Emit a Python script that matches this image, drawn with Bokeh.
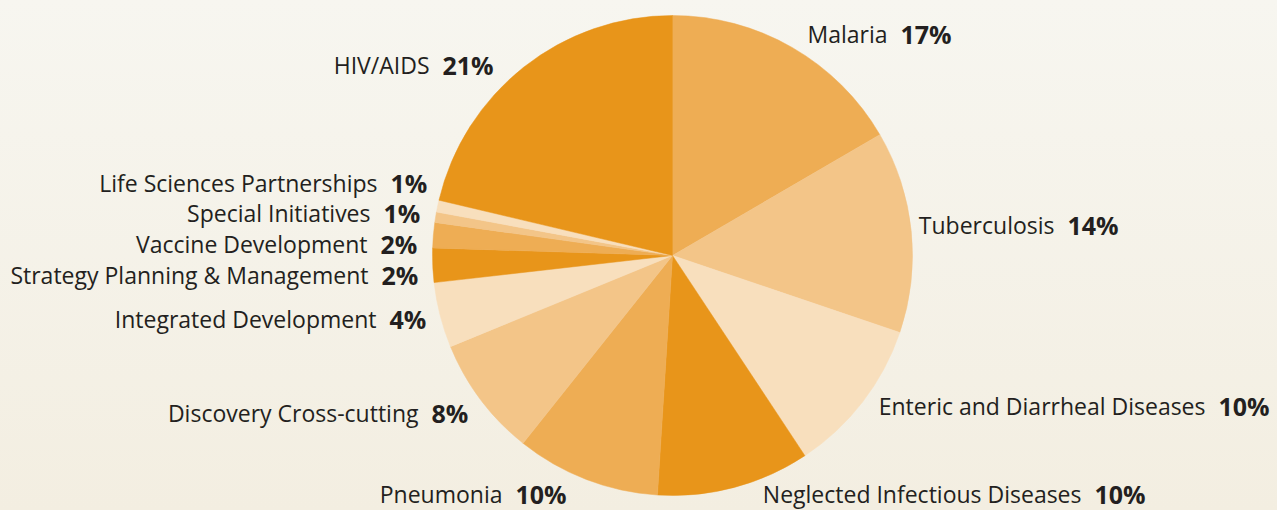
import numpy as np
import pandas as pd
from bokeh.plotting import figure
from bokeh.models import ColumnDataSource, Range1d, GlobalInlineStyleSheet
from bokeh.core.properties import value
from bokeh.embed import file_html
from bokeh.resources import INLINE

# ---- data (clockwise from 12 o'clock) ----
categories = ["Malaria", "Tuberculosis", "Enteric and Diarrheal Diseases",
              "Neglected Infectious Diseases", "Pneumonia", "Discovery Cross-cutting",
              "Integrated Development", "Strategy Planning & Management",
              "Vaccine Development", "Special Initiatives",
              "Life Sciences Partnerships", "HIV/AIDS"]
shares = [16.6, 13.6, 10.5, 10.3, 9.7, 8.1, 4.4, 2.3, 1.7, 0.7, 0.8, 21.3]
pct_labels = ["17%", "14%", "10%", "10%", "10%", "8%", "4%", "2%", "2%", "1%", "1%", "21%"]

# ---- styling / layout ----
palette = ["#EEAD54", "#F3C588", "#F8DFBD", "#E8951A"]
# label anchors, pixels relative to pie centre (x = end of the category name)
label_x = [215, 382, 533, 409, -170, -254, -296, -304, -305, -302, -295, -243]
label_y = [222, 31, -150, -238, -238, -157, -63, -19, 12, 43, 73, 191]

W, H = 1277, 510
CX, CY = 672, 255          # pie centre inside the figure (pixels)
R = 240

frac = np.array(shares) / np.sum(shares)
cum = np.cumsum(frac)
df = pd.DataFrame({
    "cat": categories,
    "pct": pct_labels,
    "start": np.pi / 2 - 2 * np.pi * (cum - frac),
    "end": np.pi / 2 - 2 * np.pi * cum,
    "color": [palette[i % 4] for i in range(len(categories))],
    "lx": label_x,
    "ly": label_y,
})
src = ColumnDataSource(df)

p = figure(width=W, height=H, output_backend="svg", toolbar_location=None,
           x_range=Range1d(-CX, W - CX), y_range=Range1d(-(H - CY), CY),
           min_border=0, background_fill_color=None, border_fill_color=None,
           outline_line_color=None)
p.axis.visible = False
p.grid.visible = False
p.stylesheets = [GlobalInlineStyleSheet(css=
    "html{min-height:100%;background:linear-gradient(to bottom,#F7F6F0,#F3EEE1) fixed;}"
    "body{background:transparent;}")]

p.wedge(x=0, y=0, radius=R, radius_units="screen", start_angle="start", end_angle="end",
        direction="clock", fill_color="color", line_color="color", line_width=0.5,
        source=src)

common = dict(x="lx", y="ly", text_baseline="middle", text_color="#231F20", source=src)
p.text(text="cat", text_align="right", text_font=value("Open Sans"),
       text_font_size="23px", **common)
p.text(text="pct", text_align="left", x_offset=13, text_font=value("Open Sans"),
       text_font_style="bold", text_font_size="25px", **common)

open("out.html", "w").write(file_html(p, INLINE))
